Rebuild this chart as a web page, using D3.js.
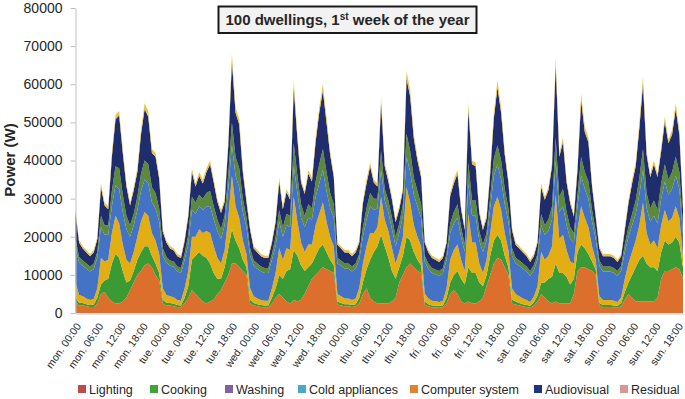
<!DOCTYPE html>
<html>
<head>
<meta charset="utf-8">
<title>100 dwellings, 1st week of the year</title>
<script src="https://cdn.jsdelivr.net/npm/d3@7"></script>
<style>
    body { margin: 0; background: #fff; }
    text { font-family: "Liberation Sans", Arial, sans-serif; fill: #262626; }
</style>
</head>
<body>
<div id="chart"></div>
<script>

    // hourly load per end use, kW, one row per day (mon ... sun), 24 values each
    const lighting = [
        3,2,2,1.8,1.6,1.6,2.5,5,5.5,4,3,2.5,2.5,3,4,6,8,10,11,12.5,13,12,10,8.5,
        2.5,2,2,1.8,1.6,1.5,2.5,4,6,5,4,3,2.5,3,3.5,5,6,8,10,13,13,12,11,10,
        2.5,2,1.8,1.6,1.5,1.5,2.5,4,5,4,3,2.5,3.5,3,3.5,5,7,9,10,11,12,11.5,11,10.5,
        2.2,2,1.8,1.8,1.6,1.8,2.5,5,6.5,4,3,2.5,2.5,2.5,2.5,3,4,8,10,12,13,12,11,10.5,
        2.2,1.8,1.5,1.5,1.4,1.5,2.5,5,6,5,3,2.5,3,2.5,2.5,3,4,7,10,13,14.5,14,12,10,
        2.5,2.2,2,1.8,1.6,1.4,2,3,5,4,3,2.5,3,2.5,2.5,2.5,2.5,5,11,12,12,11.5,11,10,
        2,1.6,1.6,1.6,1.5,1.4,1.8,3.5,5,4,3,3,3,3,3,3,4,9,11,11,11.5,12,11.5,9
    ];
    const cooking = [
        1,0.7,0.6,0.5,0.5,0.6,1.5,2.5,3,5,10,13,12,8,4,2.5,3,4,5,5,4.5,3,3,2,
        1,0.7,0.6,0.6,0.5,0.5,1.5,3,8,10,12,12,12,10,7,4,3,4,7,9,6,5,3,2,
        1,0.6,0.5,0.5,0.5,0.5,1.5,2.5,5,5,8,9,13,12,9,6,5,4,5,6,6,4.5,3,2,
        0.8,0.6,0.5,0.5,0.5,0.5,1.5,3,5,10,13,15,18,15,12,8,5,4,5,8,6,4,3,2,
        0.8,0.5,0.5,0.5,0.5,0.5,1.5,3,4,6,6,5,9,8,8,5,3,3,5,6,6,5,3,2,
        1,0.8,0.6,0.5,0.5,0.5,0.8,1.5,3,4,6,7,10,8,8,7,5,4,5,6,5,4,2.5,1.5,
        0.6,0.5,0.5,0.5,0.5,0.5,0.8,2,3,6,9,11,12,10,9,9,7,7,8,7,7,8,7,3
    ];
    const washing = [
        4,2,1.8,1.5,1.3,1.5,2.5,7,5,5,8,10,9,7,6,4.5,5,6,8,9,8,6,6,5,
        3,2,1.8,1.7,1.3,1.2,2.5,4,6,5,6,6,7,8,7,5.5,4,4.5,8,14,9,8,5,3.5,
        3,1.8,1.5,1.3,1.2,1.2,2.5,4,7,5,6,5,14,9,6,5,6,5,8,9,11,8,6,5,
        2,1.8,1.5,1.5,1.3,1.5,2.5,5,6,7,5,5,10,7,7,6,4,4,5,13,10,7,6,5,
        2.2,1.5,1.2,1.1,1,1.2,2.5,6,6.5,7,5,3.5,14,8,8,5,3.5,4,6,9,10,8,6,4.5,
        3,2,1.8,1.5,1.3,1,1.5,2.5,8,6,6,8,18,9,10,7,6,4,6,10,8,7,4,2.5,
        1.8,1.3,1.3,1.3,1.2,1,1.5,3.5,5,6,7,9,14,8,6,7,6,7,8,6,6.5,8,6.5,3
    ];
    const coldAppliances = [
        9,8.5,8,7.8,7.5,7.8,8,8,7,6.5,7,8,9,8.5,8,7,7,7,8,8.5,8.5,8,8.5,8.5,
        8.5,8.5,8,8,7.5,7.3,7.5,7,7,6,6,6,6.5,7,7,7,6.5,6.5,7.5,8,8,8,7.5,7,
        8.5,8,7.8,7.5,7.3,7.3,7.5,7,7,6,6,6,8,7.5,6.5,6.5,7,6.5,7.5,8,8.5,8,7.5,7.5,
        8,8,7.8,7.8,7.5,7.8,7.5,7,7,7,6,5,7,5,5,5,4.5,5,5.5,8,8,8,8,7.5,
        8.3,7.8,7.3,7,6.8,7.3,7.5,7,7,7,6,5,8,7,7,6,5.5,5,6.5,8,8.5,8,7.5,7.5,
        8.5,8,8,7.8,7.5,6.8,7,7,7,6.5,6.5,7,9,7,7.5,6.5,6,5.5,6,8,7.5,7.5,6.5,5.5,
        8,7.5,7.5,7.5,7.3,6.8,7,7,7,7,7,8,8.5,6.5,6,6.5,6.5,7,7.5,7,7.5,8,7.5,5.5
    ];
    const computerSystem = [
        2.5,1.5,1.4,1.4,1.3,1.4,1.6,3,2.5,2.5,4,5,5.5,4.5,3.5,3,3,3.5,4.5,5,5,4,4,3.5,
        2,1.5,1.4,1.4,1.3,1.3,1.6,2.5,3.5,3,3,3,3.5,4,3.5,3,2.5,2.5,4,6,5,5,3.5,2.5,
        2,1.4,1.4,1.3,1.3,1.3,1.5,2.5,3,2.5,3,3,6,4.5,3.5,3,3.5,3,4,5,5.5,5,4,3.5,
        1.5,1.4,1.4,1.4,1.3,1.4,1.5,2.5,3,3.5,3,2.5,5,3,3,3,2.5,2.5,3,6,5.5,4.5,4,3.5,
        1.5,1.4,1.3,1.3,1.3,1.3,1.5,2.5,3,3.5,2.5,2,5.5,4,4,2.5,2,2,3,4.5,5,5,4,3.5,
        2,1.5,1.4,1.4,1.3,1.3,1.3,1.5,3,2.5,3,3.5,6,4,4.5,3.5,3,2.5,3,5,4.5,4.5,3,2,
        1.4,1.3,1.3,1.3,1.3,1.3,1.3,2,2.5,3,3.5,4.5,5.5,4,3.5,4,3.5,4,4.5,4,4.5,5,4.5,2
    ];
    const audiovisual = [
        6.7,3.7,3.1,2.9,2.7,3,3.3,7.5,5.2,4.2,9,12.3,13.8,11,7.7,5.2,6.2,6.5,10.3,13.5,12.5,9,9.5,7.7,
        4.3,3.7,3.1,2.9,2.7,2.6,3.3,4.8,6.5,4.2,5,4,5.5,7,6.2,4.7,4.2,3.7,7.5,16,11.5,11.5,7,4.2,
        4.8,3.1,2.9,2.7,2.6,2.6,2.9,3.8,7.5,4.7,5.7,4.2,14.5,9.7,5.7,5.7,8,7,10.3,13.5,15.3,13,10,7.2,
        3.4,3.1,2.9,2.9,2.7,2.9,2.9,6.2,6.5,7,4.2,3.2,12.5,6,5,4.7,3.8,3.7,3.7,14.5,14.3,10.3,8,7.2,
        3.4,2.9,2.6,2.5,2.4,2.6,2.9,7.2,7.5,8,4.7,3.8,14,9.5,9,4.7,3.8,3.8,6,10.5,15.2,12.5,9,6.7,
        4.8,3.4,3.1,2.9,2.7,2.4,2.3,2.9,7,6.7,7.7,10.5,19,10.5,12.3,7.7,6.2,4.3,6.5,14.8,10.5,10.3,6.2,3.8,
        3.1,2.7,2.7,2.7,2.6,2.4,2.5,3.8,6.2,8,9,13,17,10,8.2,9.5,8.7,8.5,11.2,9.5,9.8,12.5,9.8,4.8
    ];
    const residual = [
        0.8,0.6,0.6,0.6,0.6,0.6,0.6,1,0.8,0.8,1,1.2,1.2,1,0.8,0.8,0.8,1,1.2,1.5,1.5,1,1,0.8,
        0.7,0.6,0.6,0.6,0.6,0.6,0.6,0.7,1,0.8,1,1,1,1,0.8,0.8,0.8,0.8,1,2,1.5,1.5,1,0.8,
        0.7,0.6,0.6,0.6,0.6,0.6,0.6,0.7,1,0.8,0.8,0.8,2,1.3,0.8,0.8,1,1,1.2,1.5,1.7,1.5,1,0.8,
        0.6,0.6,0.6,0.6,0.6,0.6,0.6,0.8,1,1,0.8,0.8,1.5,1,1,0.8,0.7,0.8,0.8,2,1.7,1.2,1,0.8,
        0.6,0.6,0.6,0.6,0.6,0.6,0.6,0.8,1,1,0.8,0.7,1.5,1,1,0.8,0.7,0.7,1,1.5,1.8,1.5,1,0.8,
        0.7,0.6,0.6,0.6,0.6,0.6,0.6,0.6,1,0.8,0.8,1,2,1,1.2,0.8,0.8,0.7,1,1.7,1.5,1.2,0.8,0.7,
        0.6,0.6,0.6,0.6,0.6,0.6,0.6,0.7,0.8,1,1,1.5,2,1,0.8,1,0.8,1,1.3,1,1.2,1.5,1.2,0.7
    ];

    const seriesNames = ["Lighting", "Cooking", "Washing", "Cold appliances", "Computer system", "Audiovisual", "Residual"];
    const seriesData = [lighting, cooking, washing, coldAppliances, computerSystem, audiovisual, residual];

    const days = ["mon.", "tue.", "wed.", "thu.", "fri.", "sat.", "sun."];
    const labelHours = ["00:00", "06:00", "12:00", "18:00"];
    const tickLabels = days.flatMap(d => labelHours.map(h => d + " " + h));
    const yTicks = [0, 10000, 20000, 30000, 40000, 50000, 60000, 70000, 80000];

    // colours as they show in the picture (stack fills differ from the legend swatches)
    const fillColors = ["#DD6F2C", "#3A9B34", "#E3AE13", "#4472C4", "#5C8A3C", "#1F2D6D", "#EDC143"];
    const legendColors = ["#BE4B48", "#3FA535", "#7E62A1", "#4AA9C4", "#E5822F", "#1F3380", "#D99694"];
    const legendX = [78, 150, 225, 298, 410, 534, 620];

    const width = 685;
    const height = 399;

    const svg = d3.select("#chart")
        .append("svg")
        .attr("width", width)
        .attr("height", height);

    // build rows for the stack, values in W
    const rows = lighting.map((v, i) => {
        const row = { hour: i };
        seriesNames.forEach((name, k) => row[name] = seriesData[k][i] * 1000);
        return row;
    });

    const stacked = d3.stack().keys(seriesNames)(rows);

    const x = d3.scaleLinear().domain([0, rows.length - 1]).range([75.5, 683]);
    const y = d3.scaleLinear().domain([0, 80000]).range([313, 8]);
    const xLabels = d3.scalePoint().domain(tickLabels).range([78, 680]);

    const area = d3.area()
        .x(d => x(d.data.hour))
        .y0(d => y(d[0]))
        .y1(d => y(d[1]));

    svg.selectAll(".layer")
        .data(stacked)
        .enter()
        .append("path")
        .attr("class", "layer")
        .attr("d", area)
        .attr("fill", (d, i) => fillColors[i]);

    // y axis
    const yAxis = svg.append("g")
        .attr("transform", "translate(75.5,0)")
        .call(d3.axisLeft(y).tickValues(yTicks).tickSize(5).tickSizeOuter(0).tickPadding(8).tickFormat(d3.format("d")));
    yAxis.select(".domain").attr("stroke", "#BFBFBF");
    yAxis.selectAll(".tick line").attr("stroke", "#BFBFBF");
    yAxis.selectAll(".tick text").style("font-size", "14px").style("fill", "#262626");

    // x axis line
    const xAxisLine = svg.append("g")
        .attr("transform", "translate(0,313.5)")
        .call(d3.axisBottom(x).tickValues([]).tickSizeOuter(0));
    xAxisLine.select(".domain").attr("stroke", "#BFBFBF");

    // rotated day / hour labels
    const xAxis = svg.append("g")
        .attr("transform", "translate(0,313)")
        .call(d3.axisBottom(xLabels).tickSize(0));
    xAxis.select(".domain").remove();
    xAxis.selectAll(".tick text")
        .attr("x", 0)
        .attr("y", 0)
        .attr("dy", "0.35em")
        .attr("transform", "translate(0,11) rotate(-55)")
        .style("text-anchor", "end")
        .style("font-size", "10.5px")
        .style("fill", "#262626");

    // y title
    svg.append("text")
        .attr("transform", "translate(15,160) rotate(-90)")
        .attr("text-anchor", "middle")
        .style("font-size", "15px")
        .style("font-weight", "bold")
        .text("Power (W)");

    // title box
    svg.append("rect")
        .attr("x", 218.5)
        .attr("y", 6.5)
        .attr("width", 258)
        .attr("height", 26.5)
        .attr("fill", "#F2F2F2")
        .attr("stroke", "#1A1A1A")
        .attr("stroke-width", 2);

    const title = svg.append("text")
        .attr("x", 347.5)
        .attr("y", 25)
        .attr("text-anchor", "middle")
        .style("font-size", "15px")
        .style("font-weight", "bold");
    title.append("tspan").text("100 dwellings, 1");
    title.append("tspan").attr("dy", -5).style("font-size", "10px").text("st");
    title.append("tspan").attr("dy", 5).text(" week of the year");

    // legend
    const legend = svg.selectAll(".legend-item")
        .data(seriesNames)
        .enter()
        .append("g")
        .attr("class", "legend-item")
        .attr("transform", (d, i) => `translate(${legendX[i]},385)`);

    legend.append("rect")
        .attr("width", 8)
        .attr("height", 8)
        .attr("fill", (d, i) => legendColors[i]);

    legend.append("text")
        .attr("x", 11)
        .attr("y", 8.5)
        .style("font-size", "12.5px")
        .style("fill", "#262626")
        .text(d => d);

</script>
</body>
</html>
